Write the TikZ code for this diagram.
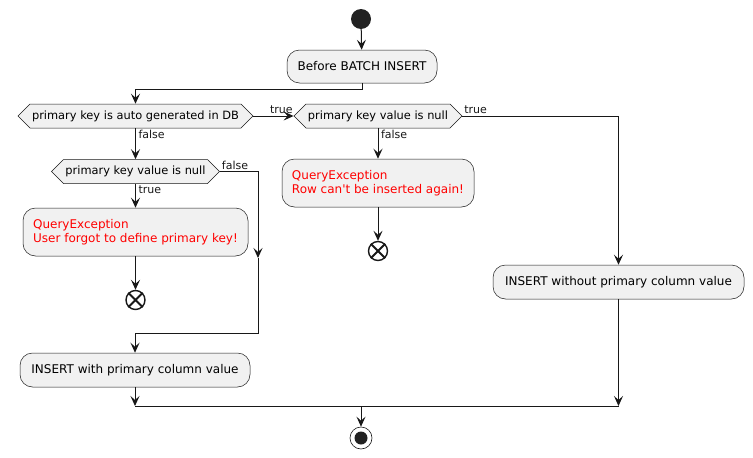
\documentclass[tikz,border=0pt]{standalone}
\usepackage{fontspec}
\setmainfont{DejaVu Sans}[Ligatures=TeXOff]
\usetikzlibrary{arrows.meta,shapes.symbols}
\definecolor{boxfill}{HTML}{F1F1F1}
\definecolor{ln}{HTML}{181818}
\definecolor{startc}{HTML}{222222}
\definecolor{errred}{HTML}{FF0000}
\tikzset{
  act/.style={draw=ln, line width=0.5pt, fill=boxfill, rounded corners=12.5pt,
    font=\fontsize{12}{14.5}\selectfont, inner xsep=9pt, align=left},
  dec/.style={shape=signal, signal to=west and east, signal pointer angle=90,
    draw=ln, line width=0.5pt, fill=boxfill, font=\fontsize{11.4}{13}\selectfont,
    minimum height=24pt, inner xsep=2pt},
  flow/.style={draw=ln, line width=1pt, -{Stealth[length=10pt,width=9pt,inset=4pt]}},
  plain/.style={draw=ln, line width=1pt},
  lbl/.style={font=\fontsize{11}{13}\selectfont, inner sep=1.5pt, text=ln},
  stopc/.style={circle, draw=ln, line width=1.4pt, fill=white, minimum size=19pt, inner sep=0pt},
  stopx/.style={draw=ln, line width=1.8pt},
  startn/.style={circle, fill=startc, minimum size=20pt, inner sep=0pt},
  endn/.style={circle, draw=ln, line width=0.6pt, fill=white, minimum size=22pt, inner sep=0pt,
    path picture={\fill[startc] (path picture bounding box.center) circle (6.5pt);}},
}
\begin{document}
\begin{tikzpicture}[x=1pt,y=-1pt]
\useasboundingbox (0,0) rectangle (753,458);

\node[startn] (start) at (361,19) {};
\node[act, minimum width=150pt, minimum height=33pt] (before) at (362,66.5) {Before BATCH INSERT};

\node[dec, minimum width=231pt] (d1) at (135.5,116) {primary key is auto generated in DB};
\node[dec, minimum width=165pt] (d2) at (378,116) {primary key value is null};
\node[dec, minimum width=165pt] (d3) at (135.5,171.5) {primary key value is null};

\node[act, minimum width=192pt, minimum height=48pt, text=errred] (qe2) at (378,183) {QueryException\\Row can't be inserted again!};
\node[stopc] (stop2) at (378,251) {};
\draw[stopx] (stop2.north west) -- (stop2.south east) (stop2.north east) -- (stop2.south west);

\node[act, minimum width=225pt, minimum height=48pt, text=errred] (qe1) at (135.5,232) {QueryException\\User forgot to define primary key!};
\node[stopc] (stop1) at (135.5,300) {};
\draw[stopx] (stop1.north west) -- (stop1.south east) (stop1.north east) -- (stop1.south west);

\node[act, minimum width=251pt, minimum height=34pt] (iwo) at (618.5,282) {INSERT without primary column value};
\node[act, minimum width=230pt, minimum height=34pt] (iw) at (135,370) {INSERT with primary column value};

\node[endn] (end) at (361,438) {};

\coordinate (m) at (361,406);
\coordinate (a3) at (258,258);
\coordinate (r3) at (258,333);

\draw[flow] (start) -- (before);
\draw[flow] (before.south) -- ++(0,6) -| (d1.north);
\draw[flow] (d1.east) -- (d2.west) node[lbl, pos=1, anchor=south east, xshift=1pt] {true};
\draw[flow] (d2.south) node[lbl, anchor=north west, xshift=1pt] {false} -- (qe2.north);
\draw[flow] (qe2.south) -- (stop2.north);
\draw[flow] (d2.east) node[lbl, anchor=south west] {true} -| (iwo.north);
\draw[flow] (iwo.south) -- (iwo.south |- m);
\draw[flow] (d1.south) node[lbl, anchor=north west, xshift=1pt] {false} -- (d3.north);
\draw[flow] (d3.south) node[lbl, anchor=north west, xshift=1pt] {true} -- (qe1.north);
\draw[flow] (qe1.south) -- (stop1.north);
\draw[flow] (d3.east) node[lbl, anchor=south west] {false} -| (a3);
\draw[flow] (a3) -- (r3) -| (iw.north);
\draw[flow] (iw.south) -- (iw.south |- m);
\draw[plain] (iw.south |- m) -- (iwo.south |- m);
\draw[flow] (m) -- (end);
\end{tikzpicture}
\end{document}
